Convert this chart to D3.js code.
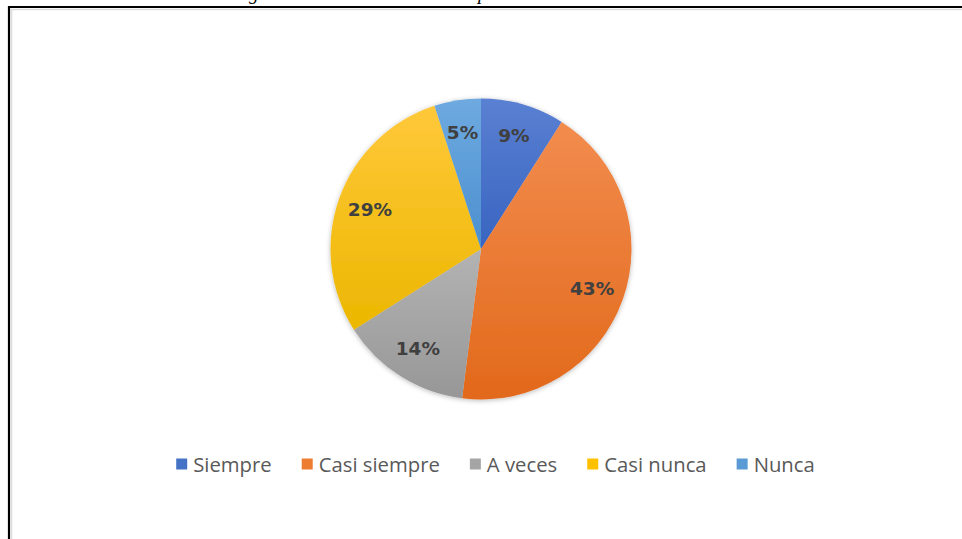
<!DOCTYPE html>
<html>
<head>
<meta charset="utf-8">
<script src="https://cdn.jsdelivr.net/npm/d3@7/dist/d3.min.js"></script>
<style>
  html, body { margin: 0; padding: 0; background: #ffffff; }
  svg { display: block; }
</style>
</head>
<body>
<svg id="chart" width="962" height="539"></svg>
<script>
// Survey answer categories and their share of responses (%)
const categories = ["Siempre", "Casi siempre", "A veces", "Casi nunca", "Nunca"];
const values = [9, 43, 14, 29, 5];
const labels = ["9%", "43%", "14%", "29%", "5%"];
// Slice colours: light (top) and dark (bottom) ends of each gradient
const colorsLight = ["#5a80d2", "#f28c4e", "#b3b3b3", "#ffc83a", "#6eaae0"];
const colorsDark  = ["#3864c0", "#e2691b", "#979797", "#ecb700", "#4b8fcf"];
const colorsFlat  = ["#4472c4", "#ed7d31", "#a5a5a5", "#ffc000", "#5b9bd5"];

const svg = d3.select("#chart");
const W = 962, H = 539;

// Page frame: heavy black rule on top and left with a faint inner line
svg.append("line").attr("x1", 8).attr("x2", W).attr("y1", 7).attr("y2", 7)
  .attr("stroke", "#000").attr("stroke-width", 2.2);
svg.append("line").attr("x1", 9).attr("x2", 9).attr("y1", 6).attr("y2", H)
  .attr("stroke", "#000").attr("stroke-width", 2.2);
svg.append("line").attr("x1", 10).attr("x2", W).attr("y1", 9.5).attr("y2", 9.5)
  .attr("stroke", "#dcdcdc").attr("stroke-width", 1.5);
svg.append("line").attr("x1", 11.5).attr("x2", 11.5).attr("y1", 9).attr("y2", H)
  .attr("stroke", "#dcdcdc").attr("stroke-width", 1.5);

// Descenders of the caption line running above the frame
svg.append("text").attr("x", 249).attr("y", 0)
  .attr("font-family", "'Liberation Serif', serif").attr("font-style", "italic")
  .attr("font-size", 19).attr("fill", "#000").text("g");
svg.append("text").attr("x", 478).attr("y", 0)
  .attr("font-family", "'Liberation Serif', serif").attr("font-style", "italic")
  .attr("font-size", 19).attr("fill", "#000").text("p");

const defs = svg.append("defs");
categories.forEach((c, i) => {
  const g = defs.append("linearGradient").attr("id", "grad" + i)
    .attr("x1", 0).attr("y1", 0).attr("x2", 0).attr("y2", 1);
  g.append("stop").attr("offset", "0%").attr("stop-color", colorsLight[i]);
  g.append("stop").attr("offset", "100%").attr("stop-color", colorsDark[i]);
});
const shadow = defs.append("filter").attr("id", "pieShadow")
  .attr("x", "-10%").attr("y", "-10%").attr("width", "120%").attr("height", "120%");
shadow.append("feDropShadow").attr("dx", 0).attr("dy", 1)
  .attr("stdDeviation", 2.5).attr("flood-color", "#000").attr("flood-opacity", 0.28);

// Pie
const cx = 481, cy = 249, r = 150.5;
const pie = d3.pie().sort(null).value(d => d)(values);
const arc = d3.arc().innerRadius(0).outerRadius(r);
const labelArc = d3.arc().innerRadius(118).outerRadius(118);

const gPie = svg.append("g").attr("transform", `translate(${cx},${cy})`);
gPie.append("g").attr("filter", "url(#pieShadow)")
  .selectAll("path").data(pie).join("path")
  .attr("d", arc)
  .attr("fill", (d, i) => `url(#grad${i})`);

gPie.selectAll("text.lbl").data(pie).join("text")
  .attr("class", "lbl")
  .attr("transform", d => `translate(${labelArc.centroid(d)})`)
  .attr("text-anchor", "middle")
  .attr("dominant-baseline", "central")
  .attr("font-family", "'DejaVu Sans', sans-serif")
  .attr("font-weight", "bold")
  .attr("font-size", 18.5)
  .attr("fill", "#404040")
  .text((d, i) => labels[i]);

// Legend
const legendY = 464, markerSize = 11, markerGap = 6, itemGap = 30;
const legend = svg.append("g");
const items = legend.selectAll("g").data(categories).join("g");
items.append("rect")
  .attr("width", markerSize).attr("height", markerSize)
  .attr("y", legendY - markerSize / 2)
  .attr("fill", (d, i) => colorsFlat[i]);
items.append("text")
  .attr("x", markerSize + markerGap)
  .attr("y", legendY)
  .attr("dominant-baseline", "central")
  .attr("font-family", "'Open Sans', sans-serif")
  .attr("font-size", 20.3)
  .attr("fill", "#595959")
  .text(d => d);
const widths = [];
items.each(function () {
  const tw = d3.select(this).select("text").node().getComputedTextLength();
  widths.push(markerSize + markerGap + tw);
});
const total = d3.sum(widths) + itemGap * (widths.length - 1);
let x0 = 495.5 - total / 2;
items.attr("transform", (d, i) => {
  const x = x0;
  x0 += widths[i] + itemGap;
  return `translate(${x},0)`;
});
</script>
</body>
</html>
